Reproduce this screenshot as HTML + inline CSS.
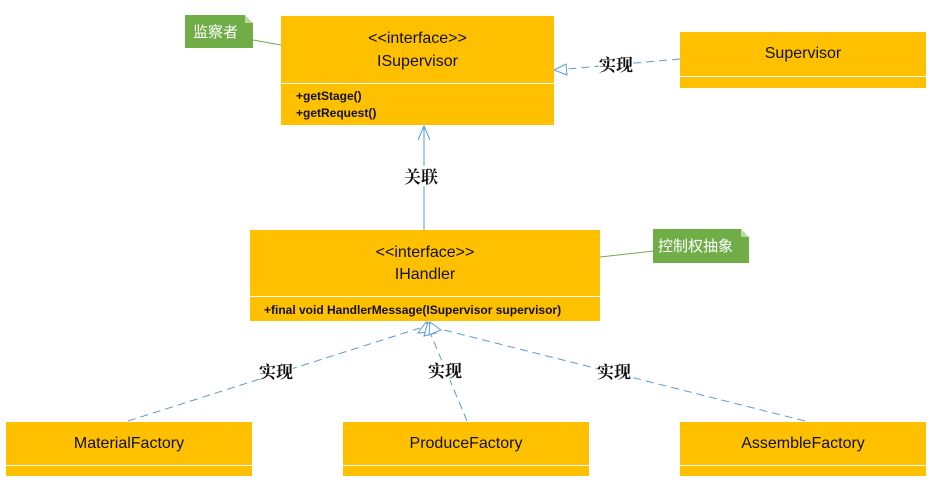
<!DOCTYPE html>
<html><head><meta charset="utf-8"><style>
body{margin:0;width:933px;height:486px;background:#fff;position:relative;overflow:hidden;font-family:"Liberation Sans","Noto Sans CJK SC",sans-serif}
.b{position:absolute;background:#FFC000;color:#111}
.d{position:absolute;left:0;right:0;height:1px;background:#fff}
.t{position:absolute;left:0;right:0;text-align:center;font-size:16px}
.m{position:absolute;font-size:12px;font-weight:bold}
.n{position:absolute;background:#70AD47;color:#fff;font-size:15px;font-family:"Noto Sans CJK SC",sans-serif;line-height:33px;padding-left:8px;box-sizing:border-box}
.n:after{content:"";position:absolute;right:0;top:0;border-style:solid;border-width:0 8px 8px 0;border-color:#fff #fff #bcd8a8 #bcd8a8}
.l{position:absolute;font-size:17px;font-family:"Noto Serif CJK SC",serif;font-weight:bold;background:#fff;color:#111;line-height:20px}
</style></head><body>
<svg width="933" height="486" style="position:absolute;left:0;top:0">
<g stroke="#5B9BD5" fill="#fff" stroke-width="1">
<line x1="680" y1="59" x2="556" y2="70" stroke-dasharray="8,5"/>
<polygon points="554,70 566,64 567,75"/>
<line x1="424" y1="230" x2="424" y2="127"/>
<polyline points="418,140 424,126 430,140" fill="none"/>
<line x1="128" y1="421" x2="420" y2="328" stroke-dasharray="8,5"/>
<line x1="467" y1="421" x2="429" y2="330" stroke-dasharray="8,5"/>
<line x1="805" y1="421" x2="436" y2="328" stroke-dasharray="8,5"/>
<polygon points="426,322 418,333 431,332"/>
<polygon points="428,322 424,336 436,333"/>
<polygon points="430,322 429,335 441,330"/>
</g>
<line x1="253" y1="40" x2="281" y2="45" stroke="#70AD47"/>
<line x1="600" y1="257" x2="654" y2="251" stroke="#70AD47"/>
</svg>
<div class="b" style="left:281px;top:16px;width:273px;height:109px"><div class="t" style="top:14px">&lt;&lt;interface&gt;&gt;</div><div class="t" style="top:37px">ISupervisor</div><div class="d" style="top:67px"></div><div class="m" style="left:15px;top:73px">+getStage()</div><div class="m" style="left:15px;top:90px">+getRequest()</div></div>
<div class="b" style="left:680px;top:32px;width:246px;height:56px"><div class="t" style="top:13px">Supervisor</div><div class="d" style="top:44px"></div></div>
<div class="b" style="left:250px;top:230px;width:350px;height:91px"><div class="t" style="top:14px">&lt;&lt;interface&gt;&gt;</div><div class="t" style="top:36px">IHandler</div><div class="d" style="top:66px"></div><div class="m" style="left:14px;top:73px">+final void HandlerMessage(ISupervisor supervisor)</div></div>
<div class="b" style="left:6px;top:422px;width:246px;height:54px"><div class="t" style="top:13px">MaterialFactory</div><div class="d" style="top:43px"></div></div>
<div class="b" style="left:343px;top:422px;width:246px;height:54px"><div class="t" style="top:13px">ProduceFactory</div><div class="d" style="top:43px"></div></div>
<div class="b" style="left:680px;top:422px;width:246px;height:54px"><div class="t" style="top:13px">AssembleFactory</div><div class="d" style="top:43px"></div></div>
<div class="n" style="left:185px;top:15px;width:68px;height:33px">监察者</div>
<div class="n" style="left:653px;top:229px;width:96px;height:34px;padding-left:5px">控制权抽象</div>
<div class="l" style="left:599px;top:54px">实现</div>
<div class="l" style="left:404px;top:166px">关联</div>
<div class="l" style="left:259px;top:361px">实现</div>
<div class="l" style="left:428px;top:360px">实现</div>
<div class="l" style="left:597px;top:361px">实现</div>
</body></html>
